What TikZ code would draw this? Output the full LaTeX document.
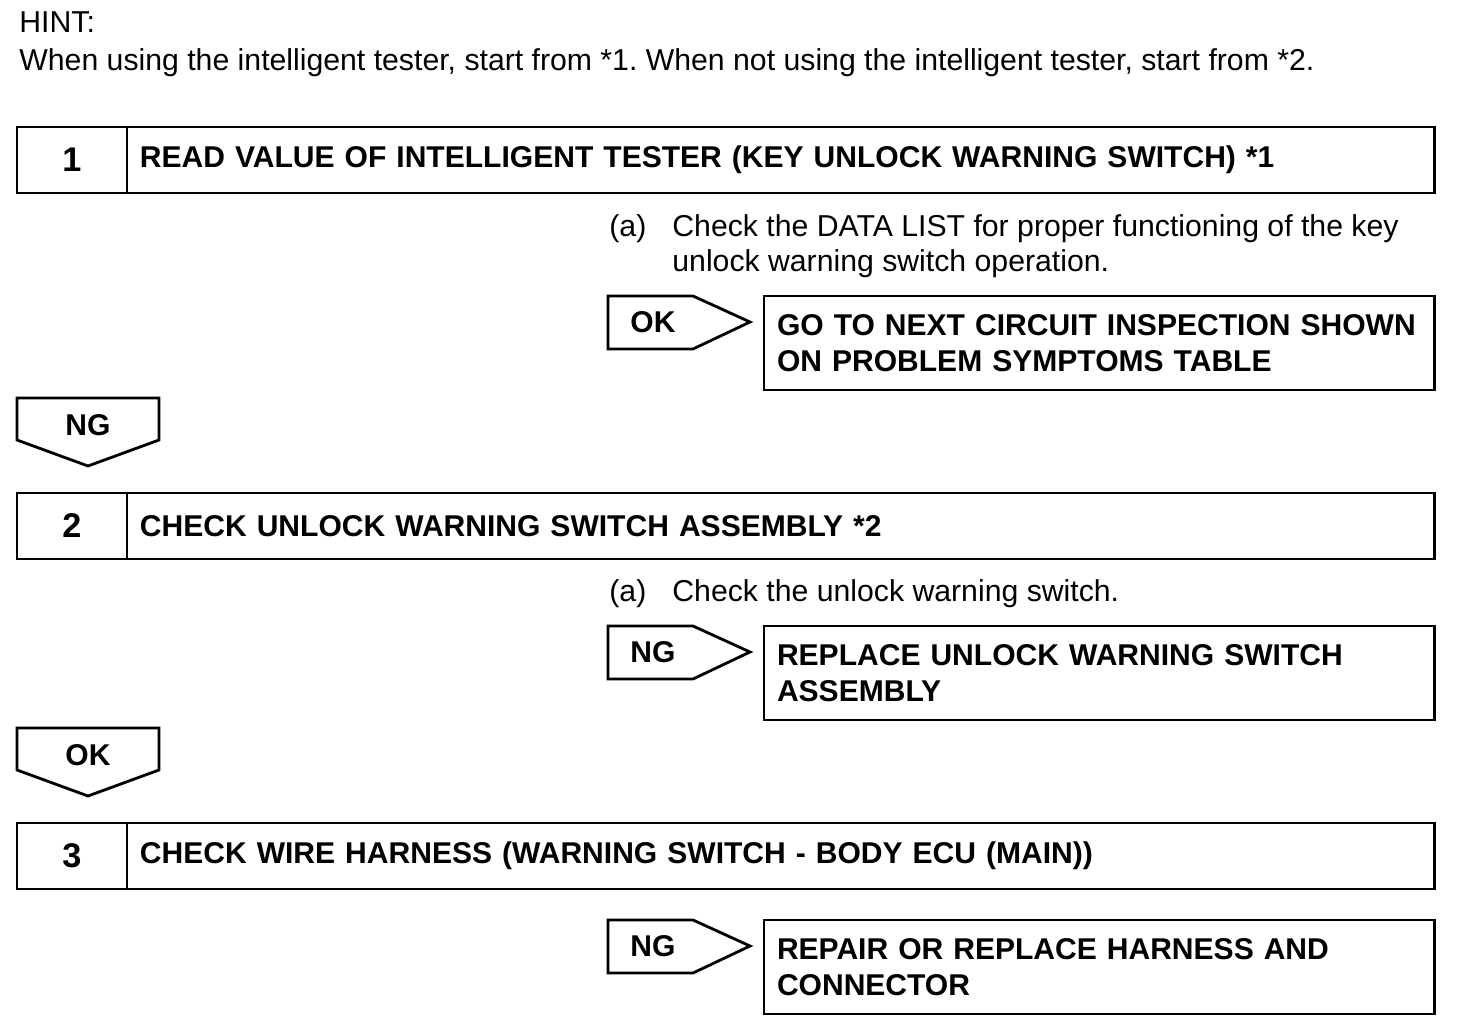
\documentclass[tikz,border=0pt]{standalone}
\usepackage{fontspec}
\setmainfont{Liberation Sans}
\usetikzlibrary{positioning}
\frenchspacing

\begin{document}
\begin{tikzpicture}[
    x=0.02cm, y=-0.02cm,
    line width=1.6pt, line join=miter,
    body font/.style={font=\fontsize{17.2}{20}\selectfont},
    head font/.style={font=\fontsize{17.1}{20.4}\selectfont\bfseries},
    numbox/.style={draw, outer sep=0pt, anchor=north west, minimum width=2.2cm, minimum height=1.32cm, font=\fontsize{19.5}{22}\selectfont\bfseries},
    titlebox/.style={draw, outer sep=0pt, minimum height=1.32cm, text width=25.64cm, inner xsep=0.26cm, align=left, head font},
    resultbox/.style={draw, outer sep=0pt, anchor=north west, minimum height=1.88cm, text width=12.9cm, inner xsep=0.26cm, align=left, head font},
    note/.style={anchor=north west, inner sep=0pt, align=left, body font},
    flag/.style={inner sep=0pt, head font},
]
\useasboundingbox (0,0) rectangle (1472,1028);

% Hint
\node[note] (hint) at (18,10) {HINT:};
\node[note] (hinttext) at (18,47) {When using the intelligent tester, start from *1. When not using the intelligent tester, start from *2.};

% Step 1
\node[numbox] (n1) at (17,127) {1};
\node[titlebox, right=0pt of n1] (t1) {READ VALUE OF INTELLIGENT TESTER (KEY UNLOCK WARNING SWITCH) *1};
\node[note] (a1) at (608,213) {(a)};
\node[note] (c1) at (671,213) {Check the DATA LIST for proper functioning of the key\\unlock warning switch operation.};
\draw (608,296) -- (693,296) -- (750,322) -- (693,349) -- (608,349) -- cycle;
\node[flag] (ok1) at (653,322) {OK};
\node[resultbox] (r1) at (764,296) {GO TO NEXT CIRCUIT INSPECTION SHOWN\\ON PROBLEM SYMPTOMS TABLE};
\draw (17,398) -- (159,398) -- (159,440) -- (88,466) -- (17,440) -- cycle;
\node[flag] (ng1) at (88,425) {NG};

% Step 2
\node[numbox] (n2) at (17,493) {2};
\node[titlebox, right=0pt of n2] (t2) {CHECK UNLOCK WARNING SWITCH ASSEMBLY *2};
\node[note] (a2) at (608,578) {(a)};
\node[note] (c2) at (671,578) {Check the unlock warning switch.};
\draw (608,626) -- (693,626) -- (750,652) -- (693,679) -- (608,679) -- cycle;
\node[flag] (ng2) at (653,652) {NG};
\node[resultbox] (r2) at (764,626) {REPLACE UNLOCK WARNING SWITCH\\ASSEMBLY};
\draw (17,728) -- (159,728) -- (159,770) -- (88,796) -- (17,770) -- cycle;
\node[flag] (ok2) at (88,755) {OK};

% Step 3
\node[numbox] (n3) at (17,823) {3};
\node[titlebox, right=0pt of n3] (t3) {CHECK WIRE HARNESS (WARNING SWITCH - BODY ECU (MAIN))};
\draw (608,920) -- (693,920) -- (750,946) -- (693,973) -- (608,973) -- cycle;
\node[flag] (ng3) at (653,946) {NG};
\node[resultbox] (r3) at (764,920) {REPAIR OR REPLACE HARNESS AND\\CONNECTOR};
\end{tikzpicture}
\end{document}
